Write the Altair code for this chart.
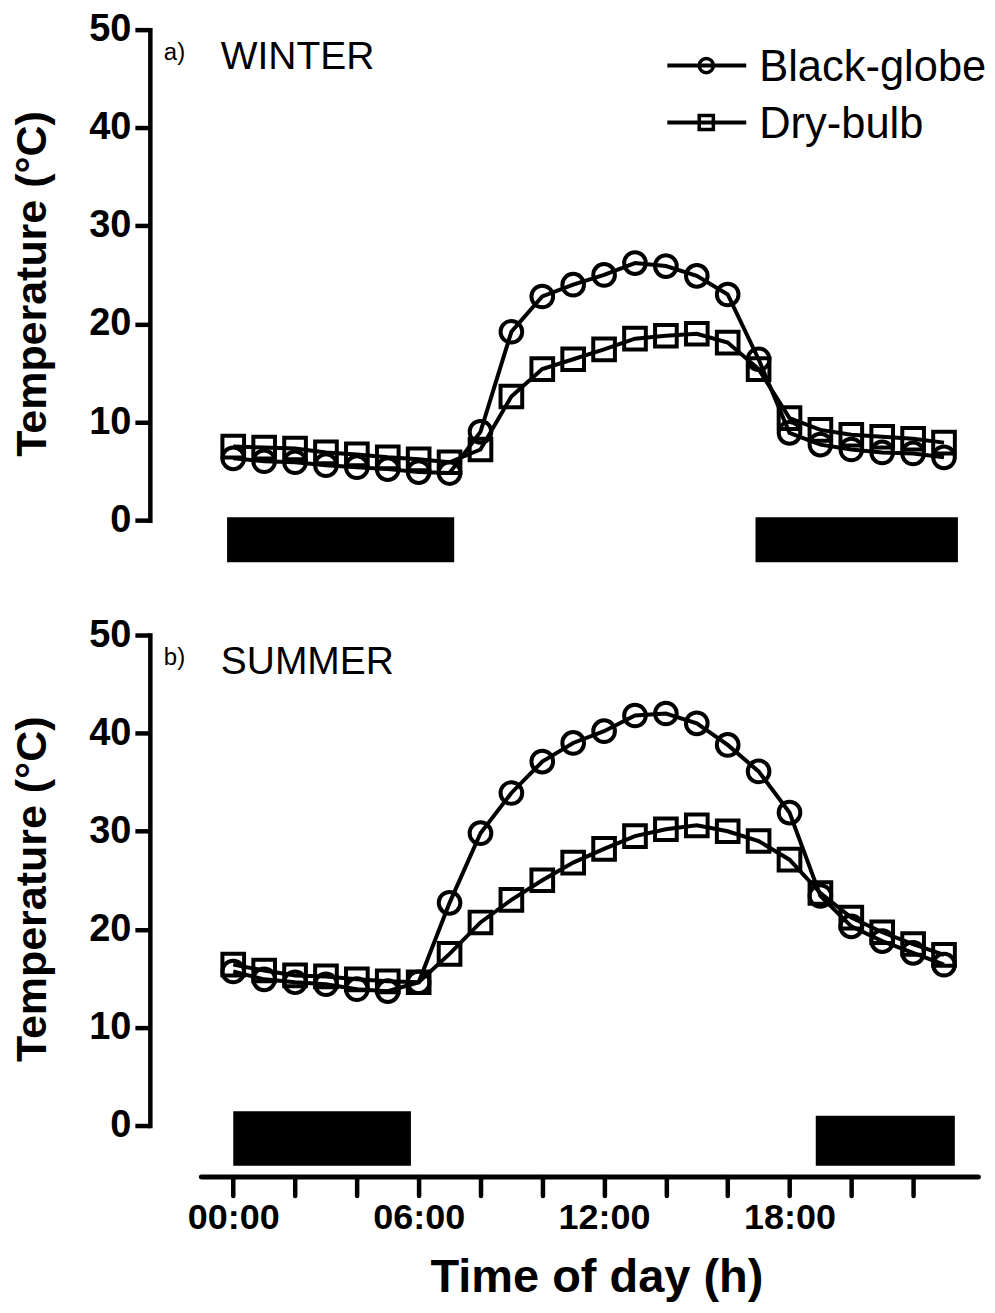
import altair as alt
import pandas as pd

# ---------------- data ----------------
hours = list(range(24))
series_names = ["Black-globe", "Dry-bulb"]

winter_black_globe = [6.3, 6.0, 5.9, 5.6, 5.4, 5.2, 4.9, 4.8, 9.0, 19.2, 22.8, 24.0,
                      25.0, 26.2, 25.9, 24.9, 23.0, 16.4, 8.9, 7.7, 7.2, 6.9, 6.8, 6.4]
winter_dry_bulb = [7.5, 7.4, 7.3, 6.9, 6.7, 6.4, 6.2, 5.9, 7.2, 12.6, 15.4, 16.4,
                   17.4, 18.5, 18.8, 19.0, 18.1, 15.4, 10.4, 9.2, 8.7, 8.5, 8.3, 7.9]
summer_black_globe = [15.7, 14.9, 14.6, 14.4, 13.9, 13.7, 14.6, 22.7, 29.8, 33.9, 37.1, 39.0,
                      40.2, 41.8, 42.0, 41.0, 38.8, 36.1, 31.9, 23.4, 20.3, 18.8, 17.6, 16.4]
summer_dry_bulb = [16.4, 15.8, 15.3, 15.2, 14.9, 14.7, 14.6, 17.5, 20.7, 23.0, 25.0, 26.8,
                   28.2, 29.5, 30.2, 30.6, 30.0, 29.0, 27.1, 23.7, 21.2, 19.7, 18.5, 17.4]

# night (dark) periods drawn as black bars below the curves
winter_night_start = [-0.2, 16.9]
winter_night_end = [7.15, 23.45]
winter_night_top = [0.3, 0.3]
winter_night_bottom = [-4.3, -4.3]
summer_night_start = [0.0, 18.85]
summer_night_end = [5.75, 23.35]
summer_night_top = [1.45, 1.0]
summer_night_bottom = [-4.1, -4.1]

panel_letters = ["a)", "b)"]
panel_titles = ["WINTER", "SUMMER"]

x_ticks = list(range(0, 24, 2))
y_ticks = [0, 10, 20, 30, 40, 50]
x_domain = [-1.05, 24.1]
y_domain = [0, 50]

# ---------------- styling ----------------
FONT = "Liberation Sans, Arial, Helvetica, sans-serif"
W, H = 778, 491
LW = 4


def y_axis():
    return alt.Axis(
        values=y_ticks, offset=51, grid=False,
        domainColor="black", domainWidth=4.5, domainCap="square",
        tickColor="black", tickWidth=4.5, tickSize=15,
        labelFont=FONT, labelFontSize=38, labelFontWeight="bold", labelColor="black",
        labelPadding=4, labelFlush=False, labelOverlap=False,
        title="Temperature (°C)", titleFont=FONT, titleFontSize=43, titleFontWeight="bold",
        titleColor="black", titleAngle=270, titleAlign="left", titleBaseline="alphabetic",
        titleX=-104, titleY=427,
    )


def x_axis():
    return alt.Axis(
        values=x_ticks, offset=51, grid=False,
        labelExpr="datum.value % 6 == 0 ? (datum.value < 10 ? '0' : '') + datum.value + ':00' : ''",
        domainColor="black", domainWidth=5, domainCap="round",
        tickColor="black", tickWidth=4.5, tickSize=19, tickCap="round",
        labelFont=FONT, labelFontSize=36, labelFontWeight="bold", labelColor="black",
        labelPadding=5, labelFlush=False, labelOverlap=False,
        title="Time of day (h)", titleFont=FONT, titleFontSize=47, titleFontWeight="bold",
        titleColor="black", titleX=396, titleY=115, titleBaseline="alphabetic", titleAlign="center",
    )


def panel(idx, bg, db, ns, ne, nt, nb, show_x, show_legend):
    df = pd.DataFrame({
        "hour": hours + hours,
        "temp": bg + db,
        "series": [series_names[0]] * 24 + [series_names[1]] * 24,
    })
    night_df = pd.DataFrame({"start": ns, "end": ne, "top": nt, "bottom": nb})

    xs = alt.Scale(domain=x_domain, nice=False, zero=False)
    ys = alt.Scale(domain=y_domain, nice=False, zero=False)
    xax = x_axis() if show_x else None
    x = alt.X("hour:Q", scale=xs, axis=xax)
    y = alt.Y("temp:Q", scale=ys, axis=y_axis())

    night = alt.Chart(night_df).mark_rect(color="black").encode(
        x=alt.X("start:Q", scale=xs, axis=xax), x2="end:Q",
        y=alt.Y("top:Q", scale=ys, axis=y_axis()), y2="bottom:Q",
    )
    lines = alt.Chart(df).mark_line(color="black", strokeWidth=LW).encode(
        x=x, y=y, detail="series:N"
    )
    points = alt.Chart(df).mark_point(filled=False, color="black", strokeWidth=LW,
                                      size=470, opacity=1).encode(
        x=x, y=y,
        shape=alt.Shape("series:N", scale=alt.Scale(domain=series_names, range=["circle", "square"]),
                        legend=None),
    )
    letter = alt.Chart(pd.DataFrame({"t": [panel_letters[idx]]})).mark_text(
        font=FONT, fontSize=24, align="left", baseline="middle", color="black"
    ).encode(x=alt.value(-37), y=alt.value(23), text="t:N")
    season = alt.Chart(pd.DataFrame({"t": [panel_titles[idx]]})).mark_text(
        font=FONT, fontSize=39, align="left", baseline="middle", color="black"
    ).encode(x=alt.value(20), y=alt.value(27), text="t:N")

    layers = [night, lines, points, letter, season]

    if show_legend:
        shapes = ["circle", "square"]
        rows = [36, 93]
        for i, name in enumerate(series_names):
            ldf = pd.DataFrame({"t": [name]})
            base = alt.Chart(ldf)
            layers.append(base.mark_rule(color="black", strokeWidth=LW).encode(
                x=alt.value(467), x2=alt.value(546), y=alt.value(rows[i])))
            layers.append(base.mark_point(shape=shapes[i], filled=False, color="black",
                                          strokeWidth=3.5, size=200, opacity=1).encode(
                x=alt.value(506), y=alt.value(rows[i])))
            layers.append(base.mark_text(font=FONT, fontSize=43.5, align="left",
                                         baseline="middle", color="black").encode(
                x=alt.value(559), y=alt.value(rows[i] + 2), text="t:N"))

    return alt.layer(*layers).properties(width=W, height=H)


top = panel(0, winter_black_globe, winter_dry_bulb, winter_night_start, winter_night_end,
            winter_night_top, winter_night_bottom, show_x=False, show_legend=True)
bottom = panel(1, summer_black_globe, summer_dry_bulb, summer_night_start, summer_night_end,
               summer_night_top, summer_night_bottom, show_x=True, show_legend=False)

chart = alt.vconcat(top, bottom, spacing=115, bounds="flush").properties(
    padding={"left": 3, "top": 2, "right": 0, "bottom": 5},
    background="white",
).configure_view(strokeOpacity=0, strokeWidth=0)

chart.save("out.html", embed_options={"renderer": "svg", "actions": False})
